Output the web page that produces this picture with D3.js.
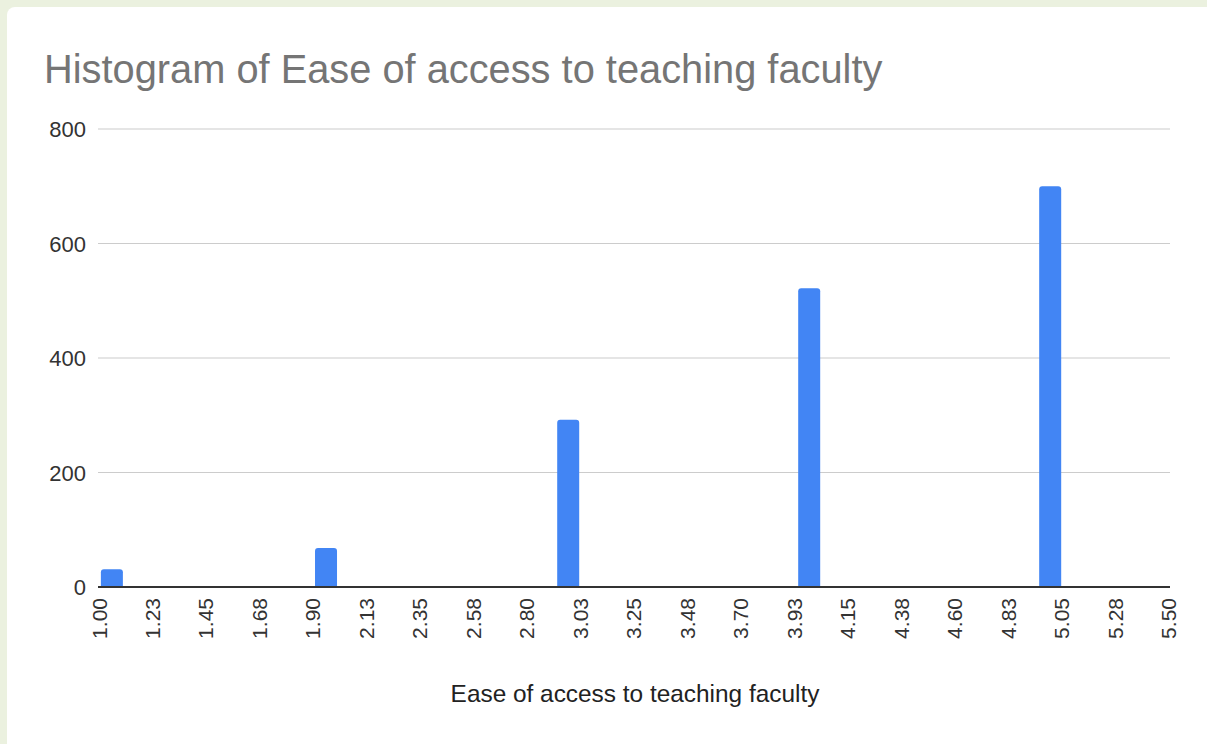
<!DOCTYPE html>
<html>
<head>
<meta charset="utf-8">
<script src="https://cdn.jsdelivr.net/npm/d3@7"></script>
<style>
  html, body { margin: 0; padding: 0; background: #ebf1df; }
  svg { display: block; }
</style>
</head>
<body>
<svg id="chart" width="1207" height="744"></svg>
<script>
// ---- data ----
const chartTitle = "Histogram of Ease of access to teaching faculty";
const xAxisTitle = "Ease of access to teaching faculty";
const xTickValues = [1.00, 1.225, 1.45, 1.675, 1.90, 2.125, 2.35, 2.575, 2.80, 3.025, 3.25, 3.475, 3.70, 3.925, 4.15, 4.375, 4.60, 4.825, 5.05, 5.275, 5.50];
const xTickLabels = ["1.00","1.23","1.45","1.68","1.90","2.13","2.35","2.58","2.80","3.03","3.25","3.48","3.70","3.93","4.15","4.38","4.60","4.83","5.05","5.28","5.50"];
const yTickValues = [0, 200, 400, 600, 800];
const barStarts = [1.010, 1.911, 2.930, 3.944, 4.958];   // x position (data units) where each bar begins
const barCounts = [31, 68, 292, 522, 700];
const barWidthUnits = 0.0926;

// ---- layout ----
const svg = d3.select("#chart");
const W = 1207, H = 744;

svg.append("rect")
  .attr("x", 7).attr("y", 7).attr("width", W + 20).attr("height", H + 20)
  .attr("rx", 8).attr("fill", "#ffffff");

const x = d3.scaleLinear().domain([1.0, 5.5]).range([98.5, 1168]);
const y = d3.scaleLinear().domain([0, 800]).range([587, 129]);

// title
svg.append("text")
  .attr("x", 44).attr("y", 83)
  .attr("font-family", "Liberation Sans, Arial, sans-serif")
  .attr("font-size", 39.8)
  .attr("fill", "#757575")
  .text(chartTitle);

// gridlines
svg.append("g").selectAll("line")
  .data(yTickValues.filter(d => d > 0))
  .join("line")
  .attr("x1", 98).attr("x2", 1170)
  .attr("y1", d => y(d)).attr("y2", d => y(d))
  .attr("stroke", "#cccccc").attr("stroke-width", 1.2);

// y axis labels
const yAxis = d3.axisLeft(y).tickValues(yTickValues).tickSize(0).tickPadding(0);
const gy = svg.append("g").attr("transform", "translate(86,0)").call(yAxis);
gy.select(".domain").remove();
gy.selectAll("text")
  .attr("font-family", "Liberation Sans, Arial, sans-serif")
  .attr("font-size", 22)
  .attr("fill", "#333333")
  .attr("dy", "0.35em");

// bars with rounded top corners
function barPath(x0, x1, yTop, yBase, r) {
  r = Math.min(r, (x1 - x0) / 2, yBase - yTop);
  return `M${x0},${yBase}V${yTop + r}Q${x0},${yTop} ${x0 + r},${yTop}H${x1 - r}Q${x1},${yTop} ${x1},${yTop + r}V${yBase}Z`;
}
svg.append("g").selectAll("path")
  .data(barStarts.map((s, i) => ({ s, c: barCounts[i] })))
  .join("path")
  .attr("d", d => barPath(x(d.s), x(d.s + barWidthUnits), y(d.c), y(0), 3))
  .attr("fill", "#4285f4");

// baseline
svg.append("line")
  .attr("x1", 98).attr("x2", 1170)
  .attr("y1", y(0)).attr("y2", y(0))
  .attr("stroke", "#333333").attr("stroke-width", 2);

// x axis labels (rotated)
const xAxis = d3.axisBottom(x).tickValues(xTickValues)
  .tickFormat((d, i) => xTickLabels[i]).tickSize(0).tickPadding(0);
const gx = svg.append("g").attr("transform", `translate(0,${y(0)})`).call(xAxis);
gx.select(".domain").remove();
gx.selectAll("text")
  .attr("font-family", "Liberation Sans, Arial, sans-serif")
  .attr("font-size", 21)
  .attr("fill", "#333333")
  .attr("text-anchor", "end")
  .attr("dominant-baseline", "central")
  .attr("dy", null)
  .attr("y", 0)
  .attr("transform", "translate(0,11) rotate(-90)");

// x axis title
svg.append("text")
  .attr("x", 635).attr("y", 702)
  .attr("text-anchor", "middle")
  .attr("font-family", "Liberation Sans, Arial, sans-serif")
  .attr("font-size", 24.4)
  .attr("fill", "#222222")
  .text(xAxisTitle);
</script>
</body>
</html>
